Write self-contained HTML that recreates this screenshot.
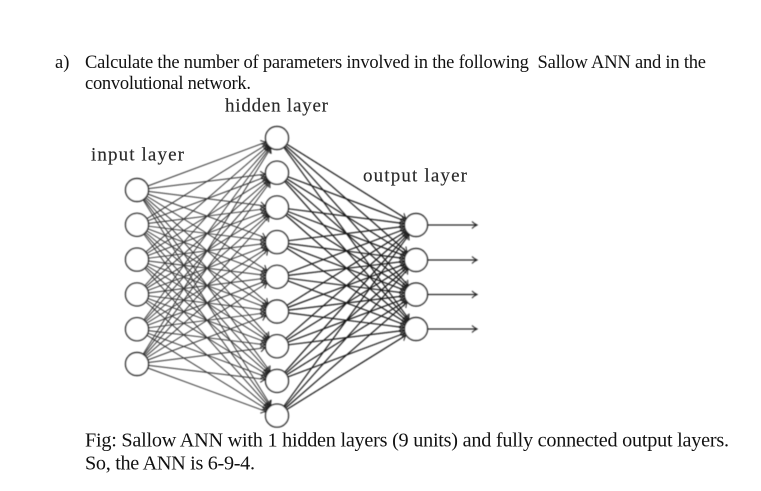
<!DOCTYPE html>
<html><head><meta charset="utf-8">
<style>
html,body{margin:0;padding:0;background:#fff;width:761px;height:491px;overflow:hidden}
svg{display:block}
text{font-family:"Liberation Serif",serif;fill:#111}
.t{font-size:18.5px}
.f{font-size:20.2px}
.c{font-size:19px;fill:#2a2a2a;stroke:#2a2a2a;stroke-width:.15px}
</style></head><body>
<svg id="s" xmlns="http://www.w3.org/2000/svg" width="761" height="491" viewBox="0 0 761 491">
<defs>
<filter id="b" x="-5%" y="-5%" width="110%" height="110%"><feGaussianBlur stdDeviation="0.4"/></filter>
<marker id="m" markerUnits="userSpaceOnUse" markerWidth="9" markerHeight="10" refX="7.5" refY="5" orient="auto"><path d="M2.5 1.5Q5 4 7.5 5Q5 6 2.5 8.5" fill="none" stroke="#222" stroke-width="1"/></marker>
</defs>
<g id="net" filter="url(#b)"></g>
<text class="t" x="55" y="68">a)</text>
<text class="t" x="85" y="68" textLength="621" lengthAdjust="spacing" xml:space="preserve">Calculate the number of parameters involved in the following  Sallow ANN and in the</text>
<text class="t" x="85" y="89" textLength="166" lengthAdjust="spacing">convolutional network.</text>
<text class="c" x="225" y="111.5" textLength="103" lengthAdjust="spacing">hidden layer</text>
<text class="c" x="91" y="160.5" textLength="93" lengthAdjust="spacing">input layer</text>
<text class="c" x="363" y="181.5" textLength="104" lengthAdjust="spacing">output layer</text>
<text class="f" x="85" y="446.5" textLength="644" lengthAdjust="spacing">Fig: Sallow ANN with 1 hidden layers (9 units) and fully connected output layers.</text>
<text class="f" x="85" y="469.5" textLength="170" lengthAdjust="spacing">So, the ANN is 6-9-4.</text>
</svg>
<script>
var R=11.5,out='';
function col(x,y0,n,d){var a=[];for(var i=0;i<n;i++)a.push([x,y0+i*d]);return a}
var I=col(137,190,6,34.8),H=col(277,138,9,34.7);
var O=[[416,225],[416,260],[416,294.5],[416,329]];
function link(a,b,w,c){var dx=b[0]-a[0],dy=b[1]-a[1],L=Math.sqrt(dx*dx+dy*dy),ux=dx/L,uy=dy/L;
 out+='<line x1="'+(a[0]+ux*R).toFixed(1)+'" y1="'+(a[1]+uy*R).toFixed(1)+'" x2="'+(b[0]-ux*R).toFixed(1)+'" y2="'+(b[1]-uy*R).toFixed(1)+'" stroke="'+c+'" stroke-width="'+w+'" marker-end="url(#m)"/>';}
I.forEach(function(a){H.forEach(function(b){link(a,b,0.95,'#333')})});
H.forEach(function(a){O.forEach(function(b){link(a,b,1.2,'#1a1a1a')})});
O.forEach(function(a){out+='<line x1="'+(a[0]+R)+'" y1="'+a[1]+'" x2="477" y2="'+a[1]+'" stroke="#222" stroke-width="1.2" marker-end="url(#m)"/>'});
I.concat(H,O).forEach(function(p){out+='<circle cx="'+p[0]+'" cy="'+p[1]+'" r="'+R+'" fill="#fff" stroke="#222" stroke-width="1.4"/>'});
document.getElementById('net').innerHTML=out;
</script>
</body></html>
